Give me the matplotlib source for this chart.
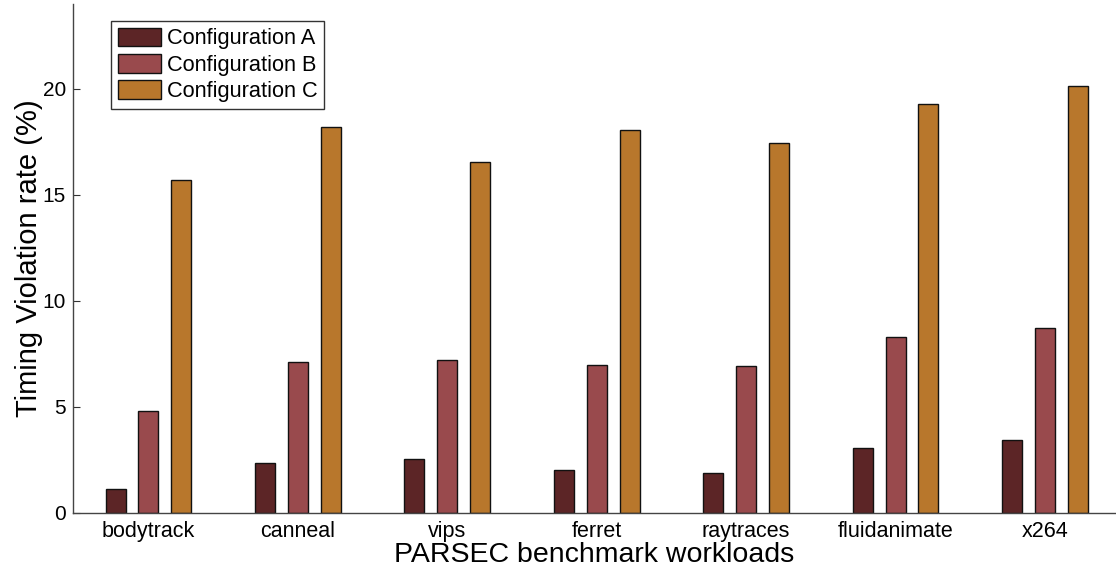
import matplotlib
matplotlib.use("Agg")
import matplotlib.pyplot as plt
import numpy as np

categories = ["bodytrack", "canneal", "vips", "ferret", "raytraces", "fluidanimate", "x264"]
series_names = ["Configuration A", "Configuration B", "Configuration C"]
config_a = [1.13, 2.36, 2.55, 2.03, 1.89, 3.07, 3.44]
config_b = [4.80, 7.12, 7.20, 6.97, 6.95, 8.32, 8.73]
config_c = [15.70, 18.20, 16.53, 18.07, 17.45, 19.30, 20.12]
yticks = [0, 5, 10, 15, 20]

colors = ["#5C2526", "#994A4D", "#B8772C"]

plt.rcParams['font.family'] = ['Liberation Sans', 'DejaVu Sans']

fig = plt.figure(figsize=(11.16, 5.69), dpi=100)
ax = fig.add_axes([73/1116, 1 - 513/569, (1116 - 73)/1116, (513 - 4)/569])

x = np.arange(len(categories))
width = 0.134
offset = 0.22
for i, (vals, name) in enumerate(zip([config_a, config_b, config_c], series_names)):
    ax.bar(x + (i - 1) * offset, vals, width, color=colors[i], edgecolor="#111111",
           linewidth=1.0, label=name)

ax.set_xlim(-0.505, 6.475)
ax.set_ylim(0, 24)
ax.set_yticks(yticks)
ax.set_xticks(x)
ax.set_xticklabels(categories)
ax.tick_params(axis='y', direction='in', length=5, labelsize=15, pad=5, color="#333333")
ax.tick_params(axis='x', length=0, labelsize=15.5, pad=6)
for s in ['top', 'right']:
    ax.spines[s].set_visible(False)
for s in ['left', 'bottom']:
    ax.spines[s].set_color("#444444")
    ax.spines[s].set_linewidth(1.0)

ax.set_ylabel("Timing Violation rate (%)", fontsize=21, labelpad=0)
ax.set_xlabel("PARSEC benchmark workloads", fontsize=20.5, labelpad=0)

leg = ax.legend(loc='upper left', bbox_to_anchor=(38/1043, (509 - 17)/509), fontsize=15.7,
                frameon=True, fancybox=False, edgecolor="black", handlelength=2.0,
                handleheight=0.95, handletextpad=0.25, labelspacing=0.2, borderpad=0.3,
                borderaxespad=0)
leg.get_frame().set_linewidth(1.0)

fig.savefig("out.png", dpi=100)
